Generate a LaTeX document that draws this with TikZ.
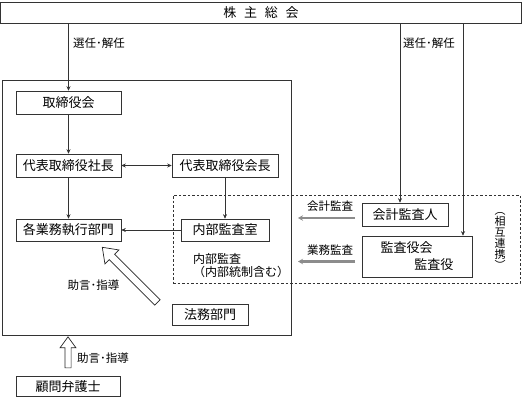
\documentclass[tikz,border=0pt]{standalone}
\usepackage{fontspec}
\setmainfont{Noto Sans CJK JP}
\usepackage{tikz}
\usetikzlibrary{positioning, shapes.arrows, arrows.meta, calc}
\tikzset{
  box/.style    = {draw=black!80, rectangle, line width=0.6pt,
                   inner sep=0pt, fill=white,
                   font=\fontsize{13}{17}\selectfont},
  outer/.style  = {draw=black!80, rectangle, line width=0.8pt, inner sep=0pt},
  dbox/.style   = {draw=black!80, rectangle, line width=0.6pt, inner sep=0pt,
                   dash pattern=on 2.5pt off 2pt},
  lbl/.style    = {inner sep=0pt, font=\fontsize{11.5}{12.5}\selectfont},
  arr/.style    = {-{Stealth[length=4.5pt,width=4pt]}, draw=black!80,
                   line width=0.6pt},
  arr2/.style   = {{Stealth[length=4.5pt,width=4pt]}-{Stealth[length=4.5pt,width=4pt]},
                   draw=black!80, line width=0.6pt},
  audit/.style  = {-{Stealth[length=5pt,width=5.5pt]}, draw=black!45,
                   line width=2.4pt},
  advice/.style = {single arrow, draw=black!85, fill=white, line width=0.7pt,
                   inner sep=0pt, single arrow tip angle=72},
}

\begin{document}
\begin{tikzpicture}[x=1pt, y=-1pt]
\useasboundingbox (0,0) rectangle (522,397);

% ────────────────────────────────────────────────────────────
%  Absolute coordinates in pixels of the 522x397 picture,
%  y running downwards.
%  Company frame : x=2..291,   y=80..335
%  Audit frame   : x=173..520, y=195..283 (dashed)
% ────────────────────────────────────────────────────────────

% ═══ SHAREHOLDERS ═══════════════════════════════════════════
\node[box, minimum width=521, minimum height=21.5] (soukai) at (261, 12.75)
  {株\hspace{0.6em}主\hspace{0.6em}総\hspace{0.6em}会};

% ═══ FRAMES ═════════════════════════════════════════════════
\node[outer, minimum width=289, minimum height=255] (company) at (146.5, 207.5) {};
\node[dbox,  minimum width=347, minimum height=88]  (audit)   at (346.5, 239) {};

% ═══ EXECUTION (left column x=68.5) ═════════════════════════
\node[box, minimum width=105, minimum height=23] (torishimari) at (68.5, 102.5)
  {取締役会};
\node[box, minimum width=105, minimum height=23] (shacho) at (68.5, 165.5)
  {代表取締役社長};
\node[box, minimum width=105, minimum height=22] (gyomu) at (68.5, 230)
  {各業務執行部門};

\node[box, minimum width=106, minimum height=23] (kaicho) at (225, 165.5)
  {代表取締役会長};
\node[box, minimum width=88, minimum height=22] (naibu) at (225, 230)
  {内部監査室};
\node[box, minimum width=76, minimum height=21] (homu) at (210, 314.5)
  {法務部門};

\node[box, minimum width=104, minimum height=20] (komon) at (68, 386.5)
  {顧問弁護士};

% ═══ AUDIT (right) ══════════════════════════════════════════
\node[box, minimum width=86, minimum height=23] (kaikei) at (405, 214.5)
  {会計監査人};
\node[box, minimum width=110, minimum height=41, align=left] (kansa) at (417, 256.5)
  {監査役会\\\hspace*{2.6em}監査役};

% ── labels ──────────────────────────────────────────────────
\node[lbl, anchor=west] (sel1) at (73, 43)  {選任･解任};
\node[lbl, anchor=west] (sel2) at (403, 43) {選任･解任};
\node[lbl] (lbkaikei) at (330, 206) {会計監査};
\node[lbl] (lbgyomu)  at (330, 250) {業務監査};
\node[lbl, anchor=west, align=left, font=\fontsize{12}{12.5}\selectfont]
  (lbnaibu) at (193, 265.5) {内部監査\\（内部統制含む）};
\node[lbl, font=\fontsize{11}{11}\selectfont, align=center] (renkei) at (500, 241)
  {︵\\相\\互\\連\\携\\︶};
\node[lbl] (lbadv1) at (93.5, 285) {助言･指導};
\node[lbl, anchor=west] (lbadv2) at (77, 358) {助言･指導};

% ═══ CONNECTORS ═════════════════════════════════════════════
\coordinate (selx1) at (400, 0);
\coordinate (selx2) at (463, 0);

\draw[arr]  (torishimari.north |- soukai.south) -- (torishimari.north);
\draw[arr]  (soukai.south -| selx1) -- (kaikei.north -| selx1);
\draw[arr]  (soukai.south -| selx2) -- (kansa.north -| selx2);

\draw[arr]  (torishimari) -- (shacho);
\draw[arr]  (shacho) -- (gyomu);
\draw[arr2] (shacho) -- (kaicho);
\draw[arr]  (kaicho) -- (naibu);
\draw[arr]  (naibu)  -- (gyomu);

% audit arrows (grey)
\coordinate (au1s) at (355, 218);
\coordinate (au1e) at (298, 218);
\coordinate (au2s) at (355, 261.5);
\coordinate (au2e) at (298, 261.5);
\draw[audit] (au1s) -- (au1e);
\draw[audit] (au2s) -- (au2e);

% advice arrows (hollow)
\node[advice, rotate=135, minimum height=78, minimum width=19,
      inner ysep=3.5pt, single arrow head extend=6pt, anchor=tail]
  (adv1) at ([xshift=-14pt, yshift=1pt]homu.north west) {};
\node[advice, rotate=90, minimum height=31, minimum width=15,
      inner ysep=2.75pt, single arrow head extend=4.75pt, anchor=tail]
  (adv2) at ([yshift=8pt]komon.north) {};

\end{tikzpicture}
\end{document}
